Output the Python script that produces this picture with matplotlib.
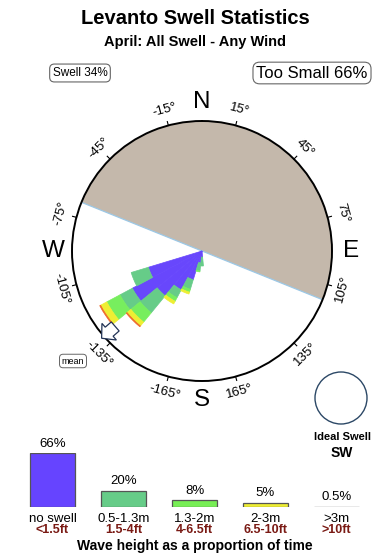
import numpy as np
import matplotlib
matplotlib.use("Agg")
import matplotlib.pyplot as plt
from matplotlib.patches import Circle, Polygon

plt.rcParams['font.family'] = ['Liberation Sans', 'DejaVu Sans']

# donnees du graphique
titre = "Levanto Swell Statistics"
sous_titre = "April: All Swell - Any Wind"
swell_pct = 34
too_small_pct = 66

# rose : 32 directions (11.25 deg), 0 = N, et longueur de chaque tranche de hauteur
directions = [-112.5, -123.75, -135, -146.25, -157.5, -168.75, 180]
largeur = 11.25
r_bleu = [56, 79, 58, 44, 30, 12, 6]
r_vert1 = [18, 14, 22, 9, 10, 8, 9]
r_vert2 = [0, 15, 12, 4, 3, 1, 0]
r_jaune = [0, 7, 5, 3, 2, 0, 0]
r_orange = [0, 1, 1, 0, 0, 0, 0]
couleurs_rose = ['#6847fc', '#66cc88', '#77ee5e', '#eeee33', '#ee6a2a']

# zone terre (secteur masque)
terre_debut = -68
terre_fin = 112
direction_moyenne = -131
ideal = "SW"

# histogramme du bas
classes_m = ["no swell", "0.5-1.3m", "1.3-2m", "2-3m", ">3m"]
classes_ft = ["<1.5ft", "1.5-4ft", "4-6.5ft", "6.5-10ft", ">10ft"]
pourcentages = [66, 20, 8, 5, 0.5]
labels_pct = ["66%", "20%", "8%", "5%", "0.5%"]
couleurs_barres = ['#6644ff', '#66cc88', '#77ee55', '#eeee33', '#ee7733']

angles_ticks = [-165, -135, -105, -75, -45, -15, 15, 45, 75, 105, 135, 165]

W, H = 390, 560
fig = plt.figure(figsize=(W / 100, H / 100), dpi=100)
fig.patch.set_facecolor('white')

fig.text(0.5, 1 - 18 / H, titre, ha='center', va='center', fontsize=14.5, fontweight='bold')
fig.text(0.5, 1 - 42 / H, sous_titre, ha='center', va='center', fontsize=10.5, fontweight='bold')
fig.text(80 / W, 1 - 73 / H, "Swell %d%%" % swell_pct, ha='center', va='center', fontsize=8.5,
         bbox=dict(boxstyle='round,pad=0.25,rounding_size=0.4', fc='white', ec='#666666', lw=0.8))
fig.text(312 / W, 1 - 73 / H, "Too Small %d%%" % too_small_pct, ha='center', va='center', fontsize=12,
         bbox=dict(boxstyle='round,pad=0.2,rounding_size=0.4', fc='white', ec='#666666', lw=0.8))

# rose polaire
R = 130
ax = fig.add_axes([72 / W, (H - 381) / H, 260 / W, 260 / H], projection='polar')
ax.set_theta_zero_location('N')
ax.set_theta_direction(-1)
ax.set_ylim(0, R)
ax.set_xticks([])
ax.set_yticks([])
ax.grid(False)
ax.spines['polar'].set_linewidth(1.4)

centre_terre = (terre_debut + terre_fin) / 2
ax.bar(np.deg2rad(centre_terre), R, width=np.deg2rad(terre_fin - terre_debut),
       color='#c4b8ab', edgecolor='none', zorder=1)
for a in [terre_debut, terre_fin]:
    ax.plot([np.deg2rad(a), np.deg2rad(a)], [0, R], color='#9cc8e6', lw=0.9, zorder=2)

theta = np.deg2rad(directions)
bas = np.zeros(len(directions))
for serie, c in zip([r_bleu, r_vert1, r_vert2, r_jaune, r_orange], couleurs_rose):
    bords = [c if v > 0 else 'none' for v in serie]
    ax.bar(theta, serie, width=np.deg2rad(largeur), bottom=bas, color=c,
           edgecolor=bords, lw=0.5, align='center', zorder=3)
    bas = bas + np.array(serie)

for a in angles_ticks:
    t = np.deg2rad(a)
    ax.plot([t, t], [R, R + 4], color='black', lw=0.8, clip_on=False)
    if abs(a) < 90:
        rot = -a
    else:
        rot = np.sign(a) * 180 - a
    ax.text(t, R + 16, "%d°" % a, rotation=rot, ha='center', va='center',
            rotation_mode='anchor', fontsize=9.5)

for nom, a in [('N', 0), ('E', 90), ('S', 180), ('W', -90)]:
    ax.text(np.deg2rad(a), R + 19, nom, ha='center', va='center', fontsize=17.5)

# fleche de direction moyenne (forme "maison")
u0 = np.array([np.sin(np.deg2rad(direction_moyenne)), np.cos(np.deg2rad(direction_moyenne))])
v0 = np.array([-u0[1], u0[0]])
c0 = u0 * 124
forme = [(-9, -6), (-1, -6), (-1, -11), (9, 0), (-1, 11), (-1, 6), (-9, 6)]
pts = []
for du, dv in forme:
    p = c0 + du * u0 + dv * v0
    pts.append((np.arctan2(p[0], p[1]), np.hypot(p[0], p[1])))
ax.add_patch(Polygon(pts, closed=True, fc='white', ec='#223355', lw=0.9, zorder=5, clip_on=False))
fig.text(73 / W, 1 - 361 / H, "mean", ha='center', va='center', fontsize=6.5,
         bbox=dict(boxstyle='round,pad=0.25,rounding_size=0.4', fc='white', ec='#666666', lw=0.7))

# cercle houle ideale
fig.patches.append(Circle((341 / 100, (H - 398) / 100), 0.26, transform=fig.dpi_scale_trans,
                          fc='white', ec='#2c4866', lw=1.0))
fig.text(342 / W, 1 - 437 / H, "Ideal Swell", ha='center', va='center', fontsize=8, fontweight='bold')
fig.text(342 / W, 1 - 453 / H, ideal, ha='center', va='center', fontsize=10, fontweight='bold')

# histogramme
bx = fig.add_axes([17 / W, (H - 507) / H, 355 / W, 54 / H])
x = np.arange(len(pourcentages))
bx.bar(x, pourcentages, width=0.634, color=couleurs_barres, edgecolor='#555555', lw=0.9)
bx.set_xlim(-0.5, 4.5)
bx.set_ylim(0, 66)
bx.axis('off')
for i in range(len(x)):
    bx.annotate(labels_pct[i], (x[i], pourcentages[i]), xytext=(0, 2.5), textcoords='offset points',
                ha='center', va='bottom', fontsize=9.5, annotation_clip=False)
    bx.annotate(classes_m[i], (x[i], 0), xytext=(0, -4), textcoords='offset points',
                ha='center', va='top', fontsize=9.5, annotation_clip=False)
    bx.annotate(classes_ft[i], (x[i], 0), xytext=(0, -12.5), textcoords='offset points',
                ha='center', va='top', fontsize=9, fontweight='bold', color='#7a1a14',
                annotation_clip=False)

fig.text(0.5, 1 - 546 / H, "Wave height as a proportion of time", ha='center', va='center',
         fontsize=10, fontweight='bold')

fig.savefig("out.png", dpi=100)
